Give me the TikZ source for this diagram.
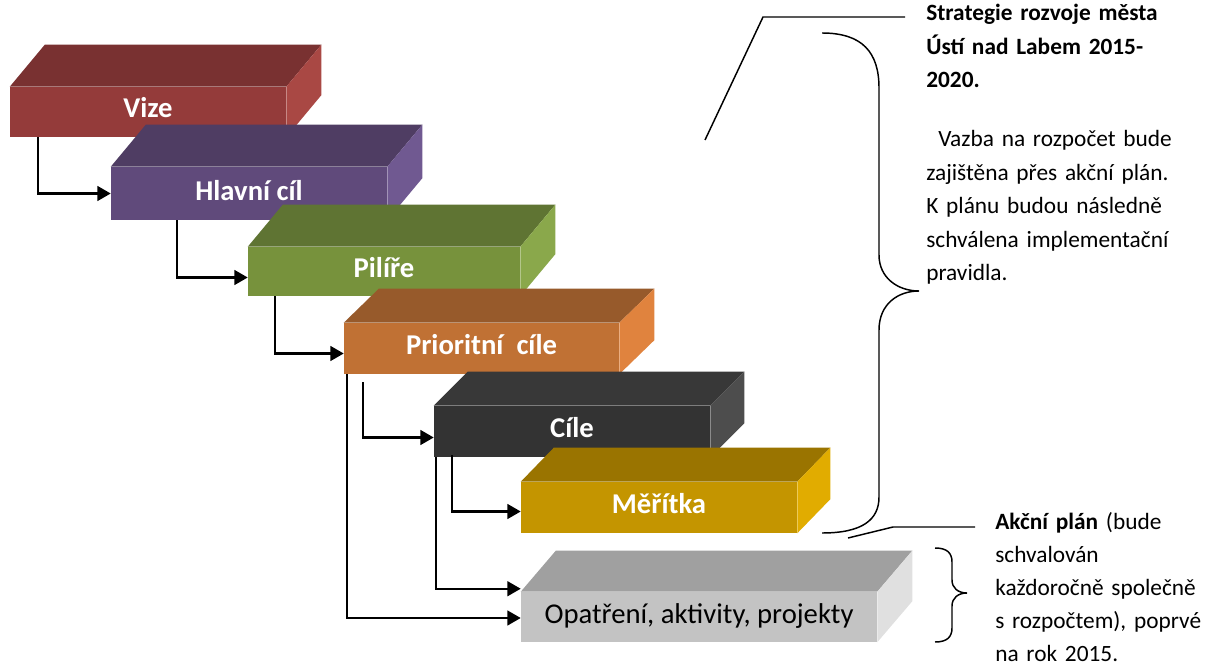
\documentclass[tikz,border=0pt]{standalone}
\usepackage{fontspec}
\setmainfont{Carlito}
\usetikzlibrary{arrows.meta, positioning, calc}

\definecolor{vizeFront}{HTML}{943B3A}
\definecolor{vizeTop}{HTML}{793131}
\definecolor{vizeSide}{HTML}{A94844}
\definecolor{cilFront}{HTML}{604A7B}
\definecolor{cilTop}{HTML}{4F3D63}
\definecolor{cilSide}{HTML}{705991}
\definecolor{pilFront}{HTML}{77923C}
\definecolor{pilTop}{HTML}{5F7433}
\definecolor{pilSide}{HTML}{8AA84B}
\definecolor{priFront}{HTML}{C07134}
\definecolor{priTop}{HTML}{975A2B}
\definecolor{priSide}{HTML}{E0833E}
\definecolor{dilFront}{HTML}{333333}
\definecolor{dilTop}{HTML}{383838}
\definecolor{dilSide}{HTML}{4D4D4D}
\definecolor{merFront}{HTML}{C49500}
\definecolor{merTop}{HTML}{9A7400}
\definecolor{merSide}{HTML}{E1AC00}
\definecolor{opaFront}{HTML}{C3C3C3}
\definecolor{opaTop}{HTML}{A0A0A0}
\definecolor{opaSide}{HTML}{E0E0E0}

% top and right face of a block: node, depth x, depth y, top colour, side colour
\newcommand{\blockfaces}[5]{%
  \fill[#4] (#1.north west) -- ++(#2,-#3) -- ($(#1.north east)+(#2,-#3)$) -- (#1.north east) -- cycle;
  \fill[#5] (#1.north east) -- ($(#1.north east)+(#2,-#3)$) -- ($(#1.south east)+(#2,-#3)$) -- (#1.south east) -- cycle;
}

\begin{document}
\begin{tikzpicture}[x=0.75pt, y=-0.75pt,
  level/.style={rectangle, inner sep=0pt, minimum width=207pt, minimum height=38.25pt,
    text height=9pt, text depth=0pt,
    text=white, font=\bfseries\fontsize{21.5}{26}\selectfont},
  link/.style={line width=1.8pt, -{Triangle[length=10pt, width=11pt]}},
  callout/.style={line width=1.1pt},
  note/.style={inner sep=0pt, anchor=base west, align=left, text width=215pt,
    font=\fontsize{17.5}{24.75}\selectfont}]
  \useasboundingbox (0,0) rectangle (1205,666);

  % the levels
  \node[level, fill=vizeFront, minimum height=37.5pt] (vize) at (148,112) {Vize};
  \blockfaces{vize}{35}{42}{vizeTop}{vizeSide}
  \node[level, fill=cilFront, minimum height=39.75pt, text height=11pt] (hlavni) at (249,193.5) {Hlavní cíl};
  \blockfaces{hlavni}{35}{42}{cilTop}{cilSide}
  \node[level, fill=pilFront, minimum width=204pt, minimum height=36.75pt] (pilire) at (384,271.5) {Pilíře};
  \blockfaces{pilire}{35}{42}{pilTop}{pilSide}
  \node[level, fill=priFront, minimum width=206.25pt] (prior) at (481.5,348.5) {Prioritní~ cíle};
  \blockfaces{prior}{35}{34}{priTop}{priSide}
  \node[level, fill=dilFront] (cile) at (572,431.5) {Cíle};
  \blockfaces{cile}{34}{34}{dilTop}{dilSide}
  \node[level, fill=merFront] (meritka) at (659,507.5) {Měřítka};
  \blockfaces{meritka}{33}{34}{merTop}{merSide}
  \node[level, fill=opaFront, minimum width=267pt, minimum height=37.5pt, text=black,
    font=\fontsize{21.5}{26}\selectfont] (opatreni) at (699,617) {Opatření, aktivity, projekty};
  \blockfaces{opatreni}{35}{41}{opaTop}{opaSide}

  % links between levels
  \draw[link] ($(vize.south west)+(28,0)$) |- (hlavni.west);
  \draw[link] ($(hlavni.south west)+(66,0)$) |- ($(pilire.west)+(0,6)$);
  \draw[link] ($(pilire.south west)+(27,0)$) |- ($(prior.west)+(0,5)$);
  \draw[link] ($(prior.south west)+(19,8)$) |- ($(cile.west)+(0,6)$);
  \draw[link] ($(cile.south west)+(18,-2)$) |- ($(meritka.west)+(0,4)$);
  \draw[link] ($(cile.south west)+(2,0)$) |- ($(opatreni.north west)+(0,-3)$);
  \draw[link] ($(prior.south west)+(3,0)$) |- ($(opatreni.west)+(0,1)$);

  % notes on the right
  \node[note, font=\bfseries\fontsize{17.5}{25.1}\selectfont] (strat) at (926,21)
    {Strategie rozvoje města\\Ústí nad Labem 2015-\\2020.};
  \node[note, font=\fontsize{17.5}{25.1}\selectfont] (vazba) at (926,147)
    {\hspace*{9pt}Vazba na rozpočet bude\\zajištěna přes akční plán.\\K plánu budou následně\\schválena implementační\\pravidla.};
  \node[note, text width=165pt] (akce) at (995,529)
    {\textbf{Akční plán} (bude\\schvalován\\každoročně společně\\s rozpočtem), poprvé\\na rok 2015.};

  \coordinate (stratA) at (705,140);
  \coordinate (stratB) at (763,17);
  \coordinate (stratC) at (905,17);
  \draw[callout] (stratA) -- (stratB) -- (stratC);
  \draw[callout] (822,33) .. controls (862,33) and (879,52) .. (879,88) -- (879,255)
    .. controls (879,278) and (898,291) .. (919,291)
    .. controls (898,291) and (879,304) .. (879,330) -- (879,497)
    .. controls (879,520) and (862,533) .. (822,533);

  \coordinate (akceA) at (848,538);
  \coordinate (akceB) at (893,527);
  \coordinate (akceC) at (975,527);
  \draw[callout] (akceA) -- (akceB) -- (akceC);
  \draw[callout] (935,548) .. controls (947,548) and (952,553) .. (952,562) -- (952,580)
    .. controls (952,588) and (958,593) .. (967,593)
    .. controls (958,593) and (952,598) .. (952,606) -- (952,628)
    .. controls (952,637) and (947,642) .. (935,642);
\end{tikzpicture}
\end{document}
